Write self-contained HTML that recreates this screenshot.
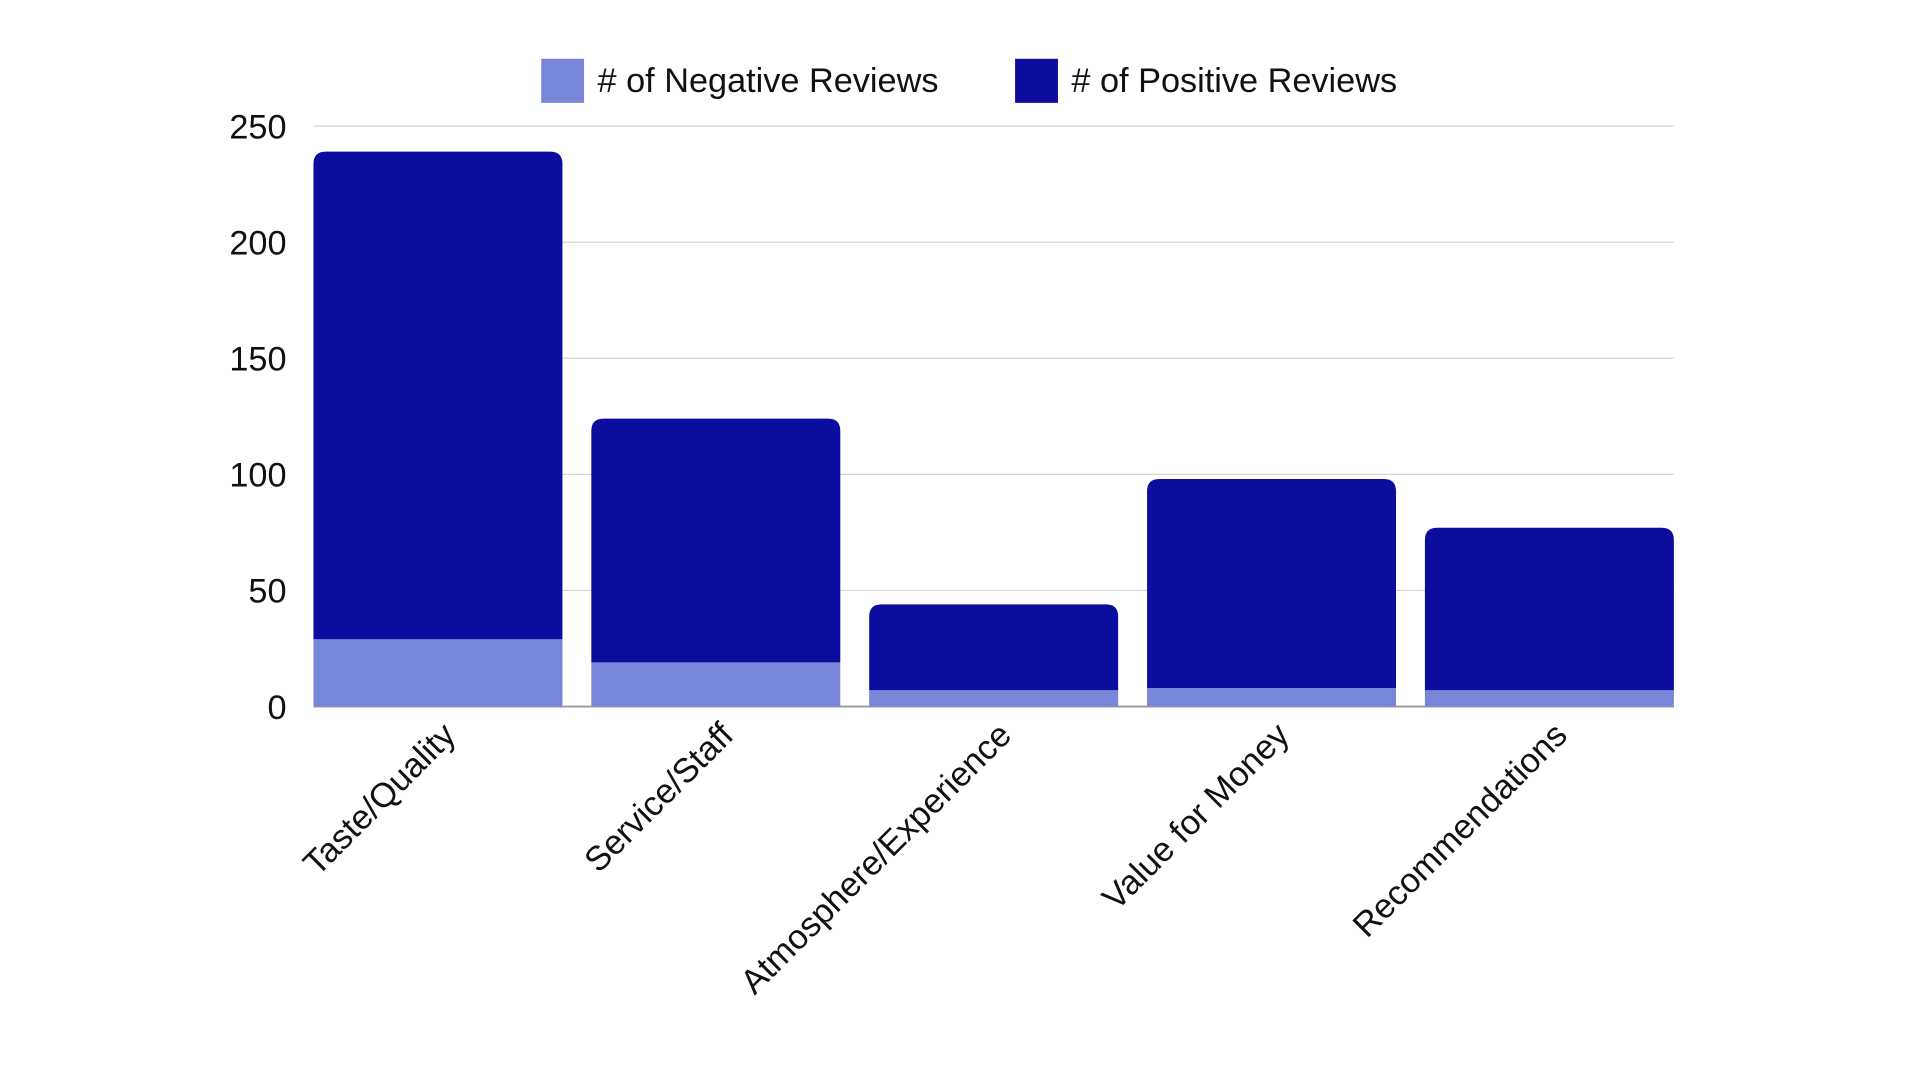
<!DOCTYPE html>
<html><head><meta charset="utf-8"><style>
html,body{margin:0;padding:0;background:#fff;}
svg{display:block;font-family:"Liberation Sans",sans-serif;}
</style></head><body>
<svg id="chart" width="1920" height="1080" viewBox="0 0 1568 882" xmlns="http://www.w3.org/2000/svg">
<g id="legend">
<rect x="442" y="48" width="35" height="36" fill="#7886da"/>
<text x="488" y="75" font-size="28" fill="#111">&#35; of Negative Reviews</text>
<rect x="829" y="48" width="35" height="36" fill="#0c0c9e"/>
<text x="875" y="75" font-size="28" fill="#111">&#35; of Positive Reviews</text>
</g>
<g id="grid"></g><g id="bars"></g><g id="xlabels"></g>
</svg>
<script>
const categories = ["Taste/Quality","Service/Staff","Atmosphere/Experience","Value for Money","Recommendations"];
const negative = [29, 19, 7, 8, 7];
const positive = [210, 105, 37, 90, 70];
const yTicks = [0, 50, 100, 150, 200, 250];
const NS = "http://www.w3.org/2000/svg";
const L = 256, R = 1367, Y0 = 577, Y250 = 103, yMax = 250;
function y(v){ return Y0 - (v / yMax) * (Y0 - Y250); }
const slot = (R - L) / categories.length;
const bw = slot * 0.915;
function xLeft(i){ return L + i * slot + (i === categories.length - 1 ? slot - bw : (i === 0 ? 0 : (slot - bw) * i / (categories.length - 1))); }
function mk(tag, attrs, parent){ const e = document.createElementNS(NS, tag); for (const k in attrs) e.setAttribute(k, attrs[k]); parent.appendChild(e); return e; }
const grid = document.getElementById('grid');
yTicks.forEach(t => {
  const ln = mk('line', {x1: L, x2: R, y1: y(t), y2: y(t), stroke: t === 0 ? '#999' : '#d4d4d4', 'stroke-width': t === 0 ? 1.5 : 1}, grid);
  
  
  const tx = mk('text', {x: 234, y: y(t) + 10, 'text-anchor': 'end', 'font-size': 28, fill: '#111'}, grid);
  tx.textContent = t;
  
  
});
const bars = document.getElementById('bars');
const xl = document.getElementById('xlabels');
categories.forEach((c, i) => {
  const x0 = xLeft(i), x1 = x0 + bw;
  const neg = mk('rect', {x: x0, y: y(negative[i]), width: bw, height: Y0 - y(negative[i]), fill: '#7886da'}, bars);
  
  
  const top = y(negative[i] + positive[i]), bot = y(negative[i]), r = 10;
  const p = mk('path', {d: `M${x0},${bot} L${x0},${top + r} Q${x0},${top} ${x0 + r},${top} L${x1 - r},${top} Q${x1},${top} ${x1},${top + r} L${x1},${bot} Z`, fill: '#0c0c9e'}, bars);
  
  
  const cx = x0 + bw / 2 + 16, cy = 602;
  const t = mk('text', {x: cx, y: cy, 'text-anchor': 'end', 'font-size': 28, fill: '#111', transform: `rotate(-45 ${cx} ${cy})`}, xl);
  t.textContent = c;
  
  
});
</script>
</body></html>
